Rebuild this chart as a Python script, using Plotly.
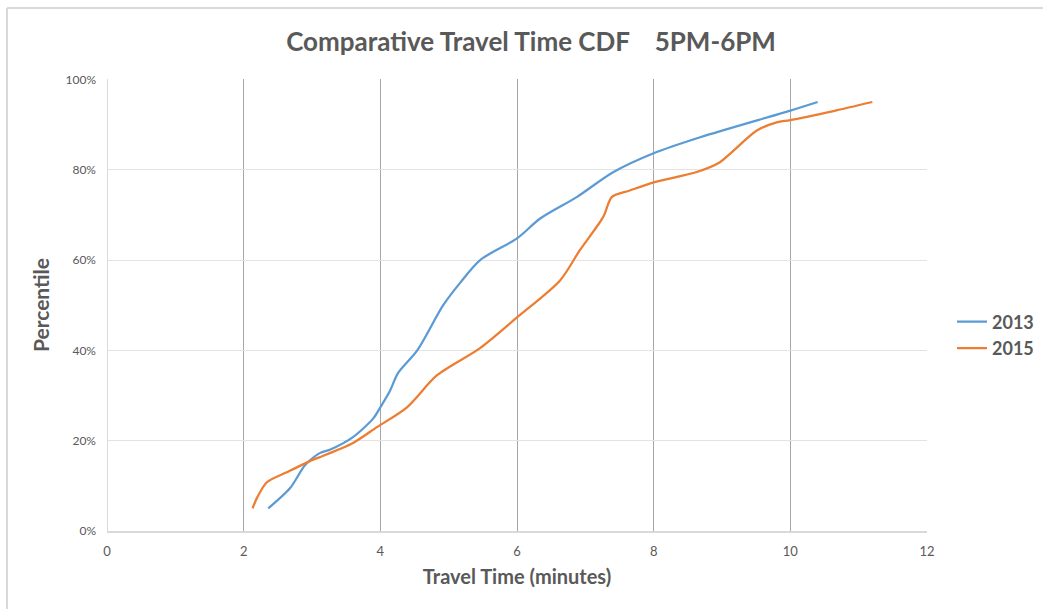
import plotly.graph_objects as go

# Data
x_2013 = [2.36, 2.68, 2.90, 3.12, 3.26, 3.60, 3.90, 4.00, 4.14, 4.26, 4.54, 4.92, 5.17, 5.46, 6.00, 6.34, 6.88, 7.40, 7.99, 8.68, 10.00, 10.40]
y_2013 = [0.05, 0.095, 0.146, 0.173, 0.18, 0.208, 0.25, 0.274, 0.31, 0.35, 0.40, 0.50, 0.55, 0.60, 0.648, 0.692, 0.74, 0.794, 0.836, 0.872, 0.931, 0.95]

x_2015 = [2.13, 2.20, 2.34, 2.63, 3.00, 3.12, 3.60, 3.95, 4.39, 4.83, 5.46, 6.00, 6.63, 6.92, 7.26, 7.39, 7.65, 8.00, 8.63, 8.95, 9.51, 9.80, 10.00, 10.63, 11.20]
y_2015 = [0.05, 0.075, 0.108, 0.13, 0.157, 0.164, 0.195, 0.23, 0.274, 0.345, 0.405, 0.473, 0.555, 0.622, 0.695, 0.74, 0.754, 0.772, 0.795, 0.815, 0.887, 0.905, 0.91, 0.93, 0.95]

x_ticks = [0, 2, 4, 6, 8, 10, 12]
y_ticks = [0, 0.2, 0.4, 0.6, 0.8, 1.0]

TEXT = "#595959"
FONT = "Lato, 'Open Sans', sans-serif"

fig = go.Figure()
fig.add_trace(go.Scatter(x=x_2013, y=y_2013, name="<b>2013</b>", mode="lines",
                         line=dict(color="#5B9BD5", width=2.25, shape="spline", smoothing=0.8)))
fig.add_trace(go.Scatter(x=x_2015, y=y_2015, name="<b>2015</b>", mode="lines",
                         line=dict(color="#ED7D31", width=2.25, shape="spline", smoothing=0.8)))

fig.update_layout(
    width=1043, height=609,
    margin=dict(l=107, r=116, t=79, b=78, autoexpand=False),
    paper_bgcolor="white", plot_bgcolor="white",
    font=dict(family=FONT, color=TEXT),
    title=dict(text="<b>Comparative Travel Time CDF\u00a0\u00a0\u00a0\u00a05PM-6PM</b>",
               x=531 / 1043, xanchor="center", y=1 - 42 / 609, yanchor="middle",
               font=dict(size=26, color=TEXT, family=FONT)),
    legend=dict(x=(952 - 107) / 820, y=(531 - 335) / 452, xanchor="left", yanchor="middle",
                font=dict(size=18, color=TEXT, family=FONT),
                itemwidth=30, tracegroupgap=2, bgcolor="rgba(0,0,0,0)"),
    showlegend=True,
)
fig.update_xaxes(range=[0, 12], tickvals=x_ticks, ticktext=[str(v) for v in x_ticks],
                 showgrid=True, gridcolor="#a6a6a6", gridwidth=1,
                 zeroline=True, zerolinecolor="#d9d9d9", zerolinewidth=1,
                 showline=True, linecolor="#d9d9d9", linewidth=1.5,
                 ticks="", ticklabelstandoff=8, tickfont=dict(size=13, color=TEXT),
                 title=dict(text="<b>Travel Time (minutes)</b>", font=dict(size=20, color=TEXT), standoff=12))
fig.update_yaxes(range=[0, 1.001], tickvals=y_ticks, tickformat=".0%",
                 showgrid=True, gridcolor="#e3e3e3", gridwidth=1,
                 zeroline=False, showline=False,
                 ticks="", ticklabelstandoff=10, tickfont=dict(size=12, color=TEXT),
                 title=dict(text="<b>Percentile</b>", font=dict(size=21, color=TEXT), standoff=10))

# outer chart frame (top and left edges visible)
fx0 = (7 - 107) / 820
fy0 = (531 - 8) / 452
fig.add_shape(type="line", xref="paper", yref="paper", x0=fx0, y0=fy0, x1=1.2, y1=fy0,
              line=dict(color="#d9d9d9", width=2))
fig.add_shape(type="line", xref="paper", yref="paper", x0=fx0, y0=fy0, x1=fx0, y1=-0.2,
              line=dict(color="#d9d9d9", width=2))

fig.write_html("out.html")
